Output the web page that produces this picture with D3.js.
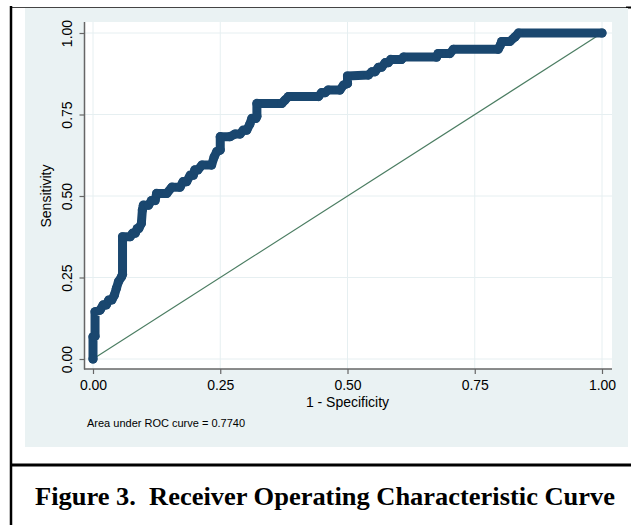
<!DOCTYPE html>
<html lang="en">
	<head>
		<meta charset="utf-8">
		<script type="text/javascript" src="https://d3js.org/d3.v7.min.js"></script>
		<style type="text/css">
			body { margin: 0; background: #fff; }
			text { font-family: "Liberation Sans", Arial, Helvetica, sans-serif; }
			text.caption { font-family: "Liberation Serif", "Times New Roman", serif; font-weight: bold; }
		</style>
	</head>
	<body>
		<script type="text/javascript">

			// ROC points (1 - specificity, sensitivity).
			var fpr = [0, 0, 0.004, 0.004, 0.014, 0.02, 0.026, 0.031, 0.037, 0.042,
				0.046, 0.05, 0.056, 0.058, 0.058, 0.073, 0.078, 0.083, 0.087, 0.09,
				0.095, 0.097, 0.099, 0.109, 0.115, 0.122, 0.125, 0.145, 0.155, 0.171,
				0.177, 0.184, 0.191, 0.197, 0.2, 0.206, 0.214, 0.233, 0.238, 0.243,
				0.25, 0.25, 0.269, 0.279, 0.289, 0.295, 0.302, 0.308, 0.312, 0.32,
				0.322, 0.322, 0.371, 0.377, 0.384, 0.443, 0.449, 0.456, 0.462, 0.485,
				0.492, 0.5, 0.5, 0.541, 0.548, 0.554, 0.561, 0.567, 0.574, 0.58,
				0.585, 0.606, 0.61, 0.675, 0.678, 0.701, 0.708, 0.796, 0.8, 0.803,
				0.819, 0.829, 0.836, 1];
			var tpr = [0, 0.068, 0.07, 0.145, 0.15, 0.166, 0.166, 0.181, 0.181, 0.196,
				0.217, 0.237, 0.252, 0.26, 0.375, 0.375, 0.386, 0.386, 0.4, 0.4,
				0.416, 0.457, 0.472, 0.472, 0.486, 0.486, 0.508, 0.508, 0.527, 0.527,
				0.544, 0.544, 0.564, 0.564, 0.58, 0.58, 0.595, 0.595, 0.62, 0.636,
				0.641, 0.682, 0.682, 0.69, 0.69, 0.702, 0.702, 0.72, 0.738, 0.738,
				0.745, 0.784, 0.784, 0.794, 0.805, 0.805, 0.817, 0.817, 0.825, 0.825,
				0.84, 0.845, 0.868, 0.871, 0.881, 0.881, 0.895, 0.895, 0.909, 0.909,
				0.919, 0.919, 0.926, 0.926, 0.937, 0.937, 0.95, 0.95, 0.962, 0.974,
				0.974, 0.988, 1, 1];

			// Tick values and labels.
			var ticks = [0, 0.25, 0.5, 0.75, 1];
			var tickLabels = ["0.00", "0.25", "0.50", "0.75", "1.00"];
			var aucText = "Area under ROC curve = 0.7740";
			var caption = "Figure 3.\u00a0 Receiver Operating Characteristic Curve";

			var w = 631;
			var h = 525;

			var svg = d3.select("body")
						.append("svg")
						.attr("width", w)
						.attr("height", h);

			// Page frame lines.
			svg.append("line").attr("x1", 11).attr("x2", 628).attr("y1", 7.5).attr("y2", 7.5)
				.attr("stroke", "#444").attr("stroke-width", 1);
			svg.append("line").attr("x1", 626).attr("x2", 631).attr("y1", 7.5).attr("y2", 7.5)
				.attr("stroke", "#000").attr("stroke-width", 2);
			svg.append("line").attr("x1", 11).attr("x2", 11).attr("y1", 6).attr("y2", h)
				.attr("stroke", "#000").attr("stroke-width", 2.5);
			svg.append("line").attr("x1", 10).attr("x2", w).attr("y1", 465).attr("y2", 465)
				.attr("stroke", "#000").attr("stroke-width", 3);

			// Stata style grey graph region, then white plot region.
			svg.append("rect").attr("x", 25).attr("y", 8).attr("width", 603).attr("height", 439)
				.attr("fill", "#eaf2f3");
			svg.append("rect").attr("x", 85).attr("y", 22).attr("width", 527).attr("height", 347)
				.attr("fill", "#fff");

			// Scales.
			var x = d3.scaleLinear().domain([0, 1]).range([93, 602]);
			var y = d3.scaleLinear().domain([0, 1]).range([359, 33]);

			// Grid lines.
			svg.append("g").selectAll("line").data(ticks).enter().append("line")
				.attr("x1", function(d) { return x(d); }).attr("x2", function(d) { return x(d); })
				.attr("y1", 22).attr("y2", 369)
				.attr("stroke", "#e6eff1").attr("stroke-width", 1);
			svg.append("g").selectAll("line").data(ticks).enter().append("line")
				.attr("y1", function(d) { return y(d); }).attr("y2", function(d) { return y(d); })
				.attr("x1", 85).attr("x2", 612)
				.attr("stroke", "#e6eff1").attr("stroke-width", 1);

			// Axes.
			var xAxis = d3.axisBottom(x).tickValues(ticks).tickSize(5).tickPadding(4)
				.tickFormat(function(d, i) { return tickLabels[i]; });
			var yAxis = d3.axisLeft(y).tickValues(ticks).tickSize(5).tickPadding(4)
				.tickFormat(function(d, i) { return tickLabels[i]; });

			var gx = svg.append("g").attr("transform", "translate(0,369)").call(xAxis);
			gx.select(".domain").remove();
			gx.selectAll(".tick line").attr("stroke", "#666").attr("stroke-width", 1.2);
			gx.selectAll(".tick text").attr("font-size", 14).attr("fill", "#000")
				.attr("dy", null).attr("y", 21);

			var gy = svg.append("g").attr("transform", "translate(84.5,0)").call(yAxis);
			gy.select(".domain").remove();
			gy.selectAll(".tick line").attr("stroke", "#666").attr("stroke-width", 1.2);
			gy.selectAll(".tick text").attr("font-size", 14).attr("fill", "#000")
				.attr("x", null).attr("dy", null)
				.attr("text-anchor", "middle")
				.attr("transform", "translate(-12.5,0) rotate(-90)");

			// Axis lines along the plot region edges.
			svg.append("line").attr("x1", 84.5).attr("x2", 84.5).attr("y1", 22).attr("y2", 369.5)
				.attr("stroke", "#666").attr("stroke-width", 1.5);
			svg.append("line").attr("x1", 84).attr("x2", 612).attr("y1", 369).attr("y2", 369)
				.attr("stroke", "#666").attr("stroke-width", 1.5);

			// Axis titles.
			svg.append("text").attr("x", x(0.5)).attr("y", 407)
				.attr("text-anchor", "middle").attr("font-size", 14)
				.text("1 - Specificity");
			svg.append("text")
				.attr("transform", "translate(51," + y(0.5) + ") rotate(-90)")
				.attr("text-anchor", "middle").attr("font-size", 14)
				.text("Sensitivity");

			// Area note.
			svg.append("text").attr("x", 87).attr("y", 427)
				.attr("font-size", 11).text(aucText);

			// Reference diagonal.
			svg.append("line")
				.attr("x1", x(0)).attr("y1", y(0)).attr("x2", x(1)).attr("y2", y(1))
				.attr("stroke", "#4b7d62").attr("stroke-width", 1.2);

			// ROC curve: thick connected line with circle markers.
			var pts = fpr.map(function(d, i) { return [d, tpr[i]]; });
			var line = d3.line()
				.x(function(d) { return x(d[0]); })
				.y(function(d) { return y(d[1]); });

			svg.append("path").datum(pts)
				.attr("d", line)
				.attr("fill", "none")
				.attr("stroke", "#1a476f")
				.attr("stroke-width", 9)
				.attr("stroke-linejoin", "round")
				.attr("stroke-linecap", "round");

			svg.append("g").selectAll("circle").data(pts).enter().append("circle")
				.attr("cx", function(d) { return x(d[0]); })
				.attr("cy", function(d) { return y(d[1]); })
				.attr("r", 4.6)
				.attr("fill", "#1a476f");

			// Figure caption.
			svg.append("text").attr("class", "caption")
				.attr("x", 35).attr("y", 505)
				.attr("font-size", 26)
				.attr("textLength", 580)
				.attr("lengthAdjust", "spacingAndGlyphs")
				.text(caption);

		</script>
	</body>
</html>
